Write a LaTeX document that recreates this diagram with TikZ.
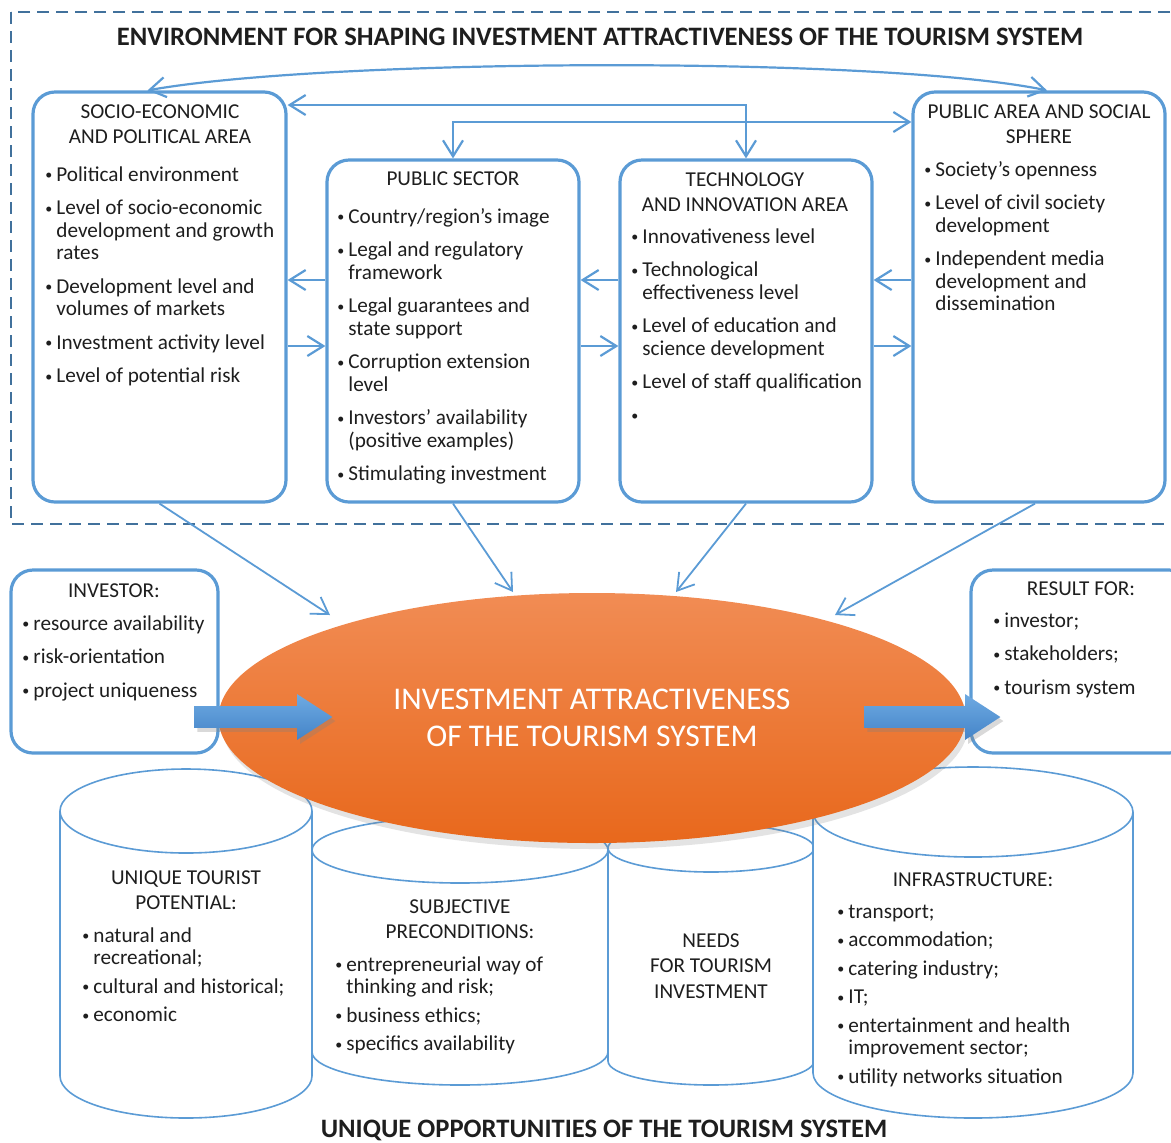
\documentclass[tikz,border=0pt]{standalone}
\usepackage{fontspec}
\setmainfont{Carlito}
\usetikzlibrary{arrows.meta,shapes.geometric,shapes.arrows,shadows,positioning}

\definecolor{boxblue}{RGB}{91,155,213}
\definecolor{frameblue}{RGB}{65,113,156}
\definecolor{orangeT}{RGB}{241,140,84}
\definecolor{orangeB}{RGB}{232,104,28}
\definecolor{arrowT}{RGB}{110,170,226}
\definecolor{arrowB}{RGB}{68,132,200}
\definecolor{ink}{RGB}{30,30,30}

\newcommand{\bu}{\makebox[5.5pt][l]{\raisebox{0.6pt}{\fontsize{7}{7}\selectfont\textbullet}}}

\begin{document}
\begin{tikzpicture}[x=0.5pt,y=-0.5pt,
>={Straight Barb[length=8pt,width=10pt]},
area node/.style = {draw=boxblue, line width=1.6pt, rounded corners=11pt, inner sep=0pt},
head node/.style = {anchor=north, inner sep=0pt, align=center, text=ink, font=\fontsize{10.6}{12.5}\selectfont},
list node/.style = {anchor=base west, inner sep=0pt, text=ink, font=\fontsize{10.6}{11.25}\selectfont},
title node/.style = {inner sep=0pt, text=ink, font=\fontsize{13.3}{15}\selectfont\bfseries},
link/.style = {draw=boxblue, line width=1.1pt, ->},
thin link/.style = {draw=boxblue, line width=0.9pt, ->},
cyl line/.style = {draw=boxblue, line width=0.8pt, fill=white},
core node/.style = {ellipse, draw=none, minimum width=373.5pt, minimum height=125pt, inner sep=0pt,
  top color=orangeT, bottom color=orangeB, text=white, align=center, font=\fontsize{15.8}{18.5}\selectfont,
  drop shadow={opacity=0.22, shadow xshift=1.5pt, shadow yshift=-3pt}},
block arrow/.style = {single arrow, draw=none, inner xsep=0pt, inner ysep=5.25pt,
  single arrow head extend=6pt, single arrow tip angle=66, top color=arrowT, bottom color=arrowB,
  drop shadow={opacity=0.3, shadow xshift=1.5pt, shadow yshift=-2pt}}]

\useasboundingbox (0,0) rectangle (1171,1142);

% environment frame
\draw[frameblue, line width=1pt, dash pattern=on 6pt off 3.5pt] (11,12) rectangle (1190,524);
\node[title node] (envT) at (600,37) {ENVIRONMENT FOR SHAPING INVESTMENT ATTRACTIVENESS OF THE TOURISM SYSTEM};

% four areas
\node[area node, minimum width=126.5pt, minimum height=205pt] (soc) at (159.5,297) {};
\node[area node, minimum width=126pt, minimum height=171pt] (pub) at (453,331) {};
\node[area node, minimum width=126pt, minimum height=171pt] (tech) at (746,331) {};
\node[area node, minimum width=126pt, minimum height=205pt] (sph) at (1039,297) {};

\node[head node] (socT) at (160,104) {SOCIO-ECONOMIC\\AND POLITICAL AREA};
\node[list node] (socL) at (45,181) {\begin{tabular}[t]{@{}l@{}l@{}}
\bu & Political environment\\[5.5pt]
\bu & Level of socio-economic\\ & development and growth\\ & rates\\[5.5pt]
\bu & Development level and\\ & volumes of markets\\[5.5pt]
\bu & Investment activity level\\[5.5pt]
\bu & Level of potential risk
\end{tabular}};

\node[head node] (pubT) at (453,171) {PUBLIC SECTOR};
\node[list node] (pubL) at (337,223) {\begin{tabular}[t]{@{}l@{}l@{}}
\bu & Country/region’s image\\[5.5pt]
\bu & Legal and regulatory\\ & framework\\[5.5pt]
\bu & Legal guarantees and\\ & state support\\[5.5pt]
\bu & Corruption extension\\ & level\\[5.5pt]
\bu & Investors’ availability\\ & (positive examples)\\[5.5pt]
\bu & Stimulating investment
\end{tabular}};

\node[head node] (techT) at (745,172) {TECHNOLOGY\\AND INNOVATION AREA};
\node[list node] (techL) at (631,243) {\begin{tabular}[t]{@{}l@{}l@{}}
\bu & Innovativeness level\\[5.5pt]
\bu & Technological\\ & effectiveness level\\[5.5pt]
\bu & Level of education and\\ & science development\\[5.5pt]
\bu & Level of staff qualification\\[5.5pt]
\bu &
\end{tabular}};

\node[head node] (sphT) at (1039,104) {PUBLIC AREA AND SOCIAL\\SPHERE};
\node[list node] (sphL) at (924,176) {\begin{tabular}[t]{@{}l@{}l@{}}
\bu & Society’s openness\\[5.5pt]
\bu & Level of civil society\\ & development\\[5.5pt]
\bu & Independent media\\ & development and\\ & dissemination
\end{tabular}};

% links between the areas
\draw[link,<->] ([xshift=-6pt]soc.north) .. controls (330,58) and (880,56) .. ([xshift=4pt]sph.north);
\draw[link,<->] (soc.east |- 0,105) -| (tech.north);
\draw[link,<->] (pub.north) |- (sph.west |- 0,122);
\foreach \a/\b in {pub/soc, tech/pub, sph/tech}
  \draw[link] (\a.west |- 0,280) -- (\b.east |- 0,280);
\foreach \a/\b in {soc/pub, pub/tech, tech/sph}
  \draw[link] (\a.east |- 0,346) -- (\b.west |- 0,346);

% investor and result
\node[area node, minimum width=103.5pt, minimum height=91.5pt] (inv) at (114.5,661.5) {};
\node[head node] (invT) at (114,583) {INVESTOR:};
\node[list node] (invL) at (22,630) {\begin{tabular}[t]{@{}l@{}l@{}}
\bu & resource availability\\[5.5pt]
\bu & risk-orientation\\[5.5pt]
\bu & project uniqueness
\end{tabular}};

\node[area node, minimum width=110pt, minimum height=91.5pt] (res) at (1081,661.5) {};
\node[head node] (resT) at (1081,581) {RESULT FOR:};
\node[list node] (resL) at (993,627) {\begin{tabular}[t]{@{}l@{}l@{}}
\bu & investor;\\[5.5pt]
\bu & stakeholders;\\[5.5pt]
\bu & tourism system
\end{tabular}};

% cylinders of opportunities
\foreach \cx/\rx/\t/\b/\ry in {460/148/850/1052/33, 711/103/848/1061/24, 186/126/811/1076/42, 973/160/812/1073/45}{
  \filldraw[cyl line] (\cx-\rx,\t) -- (\cx-\rx,\b)
    arc[start angle=180, end angle=360, x radius={\rx*0.5pt}, y radius={\ry*0.5pt}]
    -- (\cx+\rx,\t)
    arc[start angle=0, end angle=180, x radius={\rx*0.5pt}, y radius={\ry*0.5pt}] -- cycle;
  \draw[cyl line, fill=none] (\cx-\rx,\t) arc[start angle=180, end angle=360, x radius={\rx*0.5pt}, y radius={\ry*0.5pt}];
}

\node[head node] (uniT) at (186,870) {UNIQUE TOURIST\\POTENTIAL:};
\node[list node] (uniL) at (82,942) {\begin{tabular}[t]{@{}l@{}l@{}}
\bu & natural and\\ & recreational;\\[3pt]
\bu & cultural and historical;\\[3pt]
\bu & economic
\end{tabular}};

\node[head node] (subT) at (460,899) {SUBJECTIVE\\PRECONDITIONS:};
\node[list node] (subL) at (335,971) {\begin{tabular}[t]{@{}l@{}l@{}}
\bu & entrepreneurial way of\\ & thinking and risk;\\[3pt]
\bu & business ethics;\\[3pt]
\bu & specifics availability
\end{tabular}};

\node[head node, font=\fontsize{10.6}{12.75}\selectfont] (needT) at (711,933) {NEEDS\\FOR TOURISM\\INVESTMENT};

\node[head node] (infT) at (973,872) {INFRASTRUCTURE:};
\node[list node] (infL) at (837,918) {\begin{tabular}[t]{@{}l@{}l@{}}
\bu & transport;\\[3pt]
\bu & accommodation;\\[3pt]
\bu & catering industry;\\[3pt]
\bu & IT;\\[3pt]
\bu & entertainment and health\\ & improvement sector;\\[3pt]
\bu & utility networks situation
\end{tabular}};

% investment attractiveness
\node[core node] (core) at (592,718) {INVESTMENT ATTRACTIVENESS\\OF THE TOURISM SYSTEM};

\coordinate (in1) at (330,615);
\coordinate (in2) at (513,592);
\coordinate (in3) at (676,592);
\coordinate (in4) at (835,615);
\draw[thin link] (soc.south) -- (in1);
\draw[thin link] (pub.south) -- (in2);
\draw[thin link] (tech.south) -- (in3);
\draw[thin link] ([xshift=-2pt]sph.south) -- (in4);

\node[block arrow, minimum height=69pt] (inA) at (255,717) {};
\node[block arrow, minimum height=68pt] (outA) at (924,717) {};

\node[title node] (oppT) at (604,1130) {UNIQUE OPPORTUNITIES OF THE TOURISM SYSTEM};
\end{tikzpicture}
\end{document}
